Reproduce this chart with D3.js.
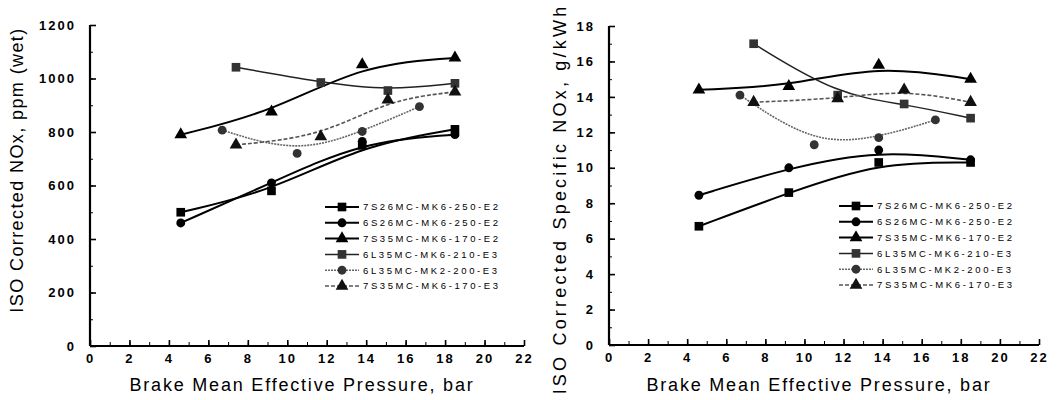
<!DOCTYPE html>
<html>
<head>
<meta charset="utf-8">
<script src="https://cdnjs.cloudflare.com/ajax/libs/d3/7.8.5/d3.min.js"></script>
<style>
  body { margin: 0; background: #fff; }
  svg { display: block; font-family: "Liberation Sans", Arial, sans-serif; }
  .legend text { font-size: 9.5px; letter-spacing: 2.6px; fill: #000; }
</style>
</head>
<body>
<div id="chart"></div>
<script>
// engine designations (legend order)
const engines = ["7S26MC-MK6-250-E2", "6S26MC-MK6-250-E2", "7S35MC-MK6-170-E2",
                 "6L35MC-MK6-210-E3", "6L35MC-MK2-200-E3", "7S35MC-MK6-170-E3"];

// BMEP load points, bar
const bmepE2 = [4.6, 9.2, 13.8, 18.5];
const bmepE3 = [7.4, 11.7, 15.1, 18.5];
const bmepMK2 = [6.7, 10.5, 13.8, 16.7];

// left: ISO corrected NOx, ppm (wet)
const ppm7S26E2 = [500, 580, 750, 810];
const ppm6S26E2 = [460, 610, 765, 790];
const ppm7S35E2 = [790, 875, 1052, 1077];
const ppm6L35MK6 = [1042, 985, 955, 982];
const ppm6L35MK2 = [807, 720, 802, 895];
const ppm7S35E3 = [752, 783, 920, 950];

// right: ISO corrected specific NOx, g/kWh
const gkwh7S26E2 = [6.7, 8.6, 10.3, 10.3];
const gkwh6S26E2 = [8.45, 10.0, 11.0, 10.45];
const gkwh7S35E2 = [14.4, 14.6, 15.8, 15.0];
const gkwh6L35MK6 = [17.0, 14.1, 13.6, 12.8];
const gkwh6L35MK2 = [14.1, 11.3, 11.7, 12.7];
const gkwh7S35E3 = [13.7, 13.9, 14.4, 13.7];

const styles = [
    {marker: "square",   fill: "#000", stroke: "#000", width: 2, dash: null},
    {marker: "circle",   fill: "#000", stroke: "#000", width: 2, dash: null},
    {marker: "triangle", fill: "#000", stroke: "#000", width: 2, dash: null},
    {marker: "square",   fill: "#333", stroke: "#222", width: 1.5, dash: null},
    {marker: "circle",   fill: "#333", stroke: "#666", width: 1.6, dash: "2,1"},
    {marker: "triangle", fill: "#111", stroke: "#555", width: 1.6, dash: "4,2"}
];

const svg = d3.select("#chart").append("svg")
    .attr("width", 1059)
    .attr("height", 400);

function drawPanel(cfg) {
    const x = d3.scaleLinear().domain([0, 22]).range(cfg.xRange);
    const y = d3.scaleLinear().domain(cfg.yDomain).range(cfg.yRange);
    const g = svg.append("g");

    // minor ticks first, then major with labels
    g.append("g")
        .attr("transform", "translate(0," + cfg.yRange[0] + ")")
        .call(d3.axisBottom(x).ticks(22).tickSize(-4).tickFormat(""))
        .call(a => a.select(".domain").remove());
    g.append("g")
        .attr("transform", "translate(" + cfg.xRange[0] + ",0)")
        .call(d3.axisLeft(y).tickValues(d3.range(cfg.yDomain[0], cfg.yDomain[1] + 0.001, cfg.yMinor)).tickSize(-3).tickFormat(""))
        .call(a => a.select(".domain").remove());

    const xAxis = g.append("g")
        .attr("transform", "translate(0," + cfg.yRange[0] + ")")
        .call(d3.axisBottom(x).tickValues(d3.range(0, 23, 2)).tickSize(-6).tickPadding(8).tickFormat(d3.format("d")));
    const yAxis = g.append("g")
        .attr("transform", "translate(" + cfg.xRange[0] + ",0)")
        .call(d3.axisLeft(y).tickValues(d3.range(cfg.yDomain[0], cfg.yDomain[1] + 0.001, cfg.yMajor)).tickSize(-6).tickPadding(14).tickFormat(d3.format("d")));
    [xAxis, yAxis].forEach(a => {
        a.select(".domain").attr("stroke-width", 2.2);
        a.selectAll(".tick line").attr("stroke-width", 1.6).attr("stroke", "#000");
        a.selectAll(".tick text")
            .style("font-family", "'Liberation Sans', Arial, sans-serif")
            .style("font-weight", "bold")
            .style("font-size", "13px")
            .style("letter-spacing", "2px")
            .attr("fill", "#000");
    });
    xAxis.select(".domain").attr("d", "M" + cfg.xRange[0] + ",0H" + cfg.xRange[1]);
    yAxis.select(".domain").attr("d", "M0," + cfg.yRange[0] + "V" + cfg.yRange[1]);
    g.selectAll(".tick line").attr("stroke", "#000");

    // axis titles
    g.append("text")
        .attr("x", (cfg.xRange[0] + cfg.xRange[1]) / 2 - 5)
        .attr("y", 391)
        .attr("text-anchor", "middle")
        .style("font-size", "18px")
        .style("letter-spacing", "1.8px")
        .text("Brake Mean Effective Pressure, bar");
    g.append("text")
        .attr("transform", "translate(" + cfg.yTitleX + "," + cfg.yTitleY + ") rotate(-90)")
        .attr("text-anchor", "middle")
        .style("font-size", "18px")
        .style("letter-spacing", cfg.yTitleSpacing)
        .text(cfg.yTitle);

    const line = d3.line()
        .x(d => x(d[0]))
        .y(d => y(d[1]))
        .curve(d3.curveBasis);

    cfg.series.forEach((s, i) => {
        const st = styles[i];
        const pts = s.xs.map((v, j) => [v, s.ys[j]]);
        g.append("path")
            .datum(pts)
            .attr("fill", "none")
            .attr("stroke", st.stroke)
            .attr("stroke-width", st.width)
            .attr("stroke-dasharray", st.dash)
            .attr("d", line);
        g.selectAll(null)
            .data(pts)
            .enter()
            .append("path")
            .attr("transform", d => "translate(" + x(d[0]) + "," + y(d[1]) + ")")
            .attr("d", markerPath(st.marker))
            .attr("fill", st.fill);
    });

    // legend
    const leg = g.append("g").attr("class", "legend")
        .attr("transform", "translate(" + cfg.legendX + "," + cfg.legendY + ")");
    engines.forEach((name, i) => {
        const st = styles[i];
        const row = leg.append("g").attr("transform", "translate(0," + i * 15.8 + ")");
        row.append("line")
            .attr("x1", 0).attr("x2", 34)
            .attr("stroke", st.stroke)
            .attr("stroke-width", st.width)
            .attr("stroke-dasharray", st.dash);
        row.append("path")
            .attr("transform", "translate(17,0)")
            .attr("d", markerPath(st.marker))
            .attr("fill", st.fill);
        row.append("text")
            .attr("x", 38)
            .attr("dy", "0.35em")
            .text(name);
    });
}

function markerPath(type) {
    if (type === "square") return d3.symbol(d3.symbolSquare, 75)();
    if (type === "circle") return d3.symbol(d3.symbolCircle, 62)();
    return d3.symbol(d3.symbolTriangle, 70)();
}

drawPanel({
    xRange: [90, 524],
    yRange: [346, 25],
    yDomain: [0, 1200],
    yMajor: 200,
    yMinor: 100,
    yTitle: "ISO Corrected NOx, ppm (wet)",
    yTitleSpacing: "1.4px",
    yTitleX: 23,
    yTitleY: 170,
    legendX: 325,
    legendY: 207,
    series: [
        {xs: bmepE2, ys: ppm7S26E2},
        {xs: bmepE2, ys: ppm6S26E2},
        {xs: bmepE2, ys: ppm7S35E2},
        {xs: bmepE3, ys: ppm6L35MK6},
        {xs: bmepMK2, ys: ppm6L35MK2},
        {xs: bmepE3, ys: ppm7S35E3}
    ]
});

drawPanel({
    xRange: [609, 1039],
    yRange: [345, 26],
    yDomain: [0, 18],
    yMajor: 2,
    yMinor: 1,
    yTitle: "ISO Corrected Specific NOx, g/kWh",
    yTitleSpacing: "3.2px",
    yTitleX: 566,
    yTitleY: 199,
    legendX: 839,
    legendY: 206,
    series: [
        {xs: bmepE2, ys: gkwh7S26E2},
        {xs: bmepE2, ys: gkwh6S26E2},
        {xs: bmepE2, ys: gkwh7S35E2},
        {xs: bmepE3, ys: gkwh6L35MK6},
        {xs: bmepMK2, ys: gkwh6L35MK2},
        {xs: bmepE3, ys: gkwh7S35E3}
    ]
});
</script>
</body>
</html>
